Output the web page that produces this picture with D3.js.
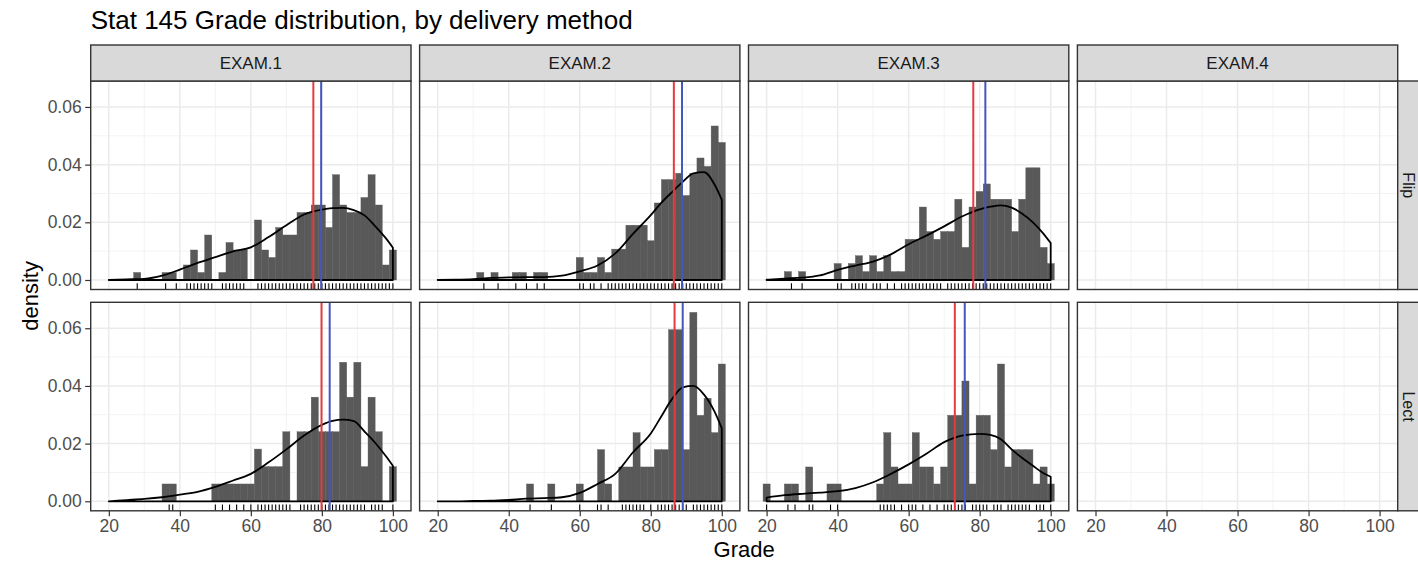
<!DOCTYPE html>
<html>
<head>
    <script src="https://cdnjs.cloudflare.com/ajax/libs/d3/7.8.5/d3.min.js"></script>
    <style>
        body, html {
            margin: 0;
            padding: 0;
            background: #fff;
            overflow: hidden;
        }
        svg {
            display: block;
            font-family: "Liberation Sans", Arial, sans-serif;
        }
        .axis text {
            fill: #4d4d4d;
            font-size: 17.5px;
        }
        .axis line {
            stroke: #333;
            stroke-width: 1.2px;
        }
        .axis path {
            display: none;
        }
        .strip-label {
            fill: #1a1a1a;
            font-size: 17px;
        }
        .axis-title {
            fill: #000;
            font-size: 22px;
        }
    </style>
</head>
<body>
    <svg></svg>
    <script>
        const width = 1418;
        const height = 564;

        // facets
        const exams = ["EXAM.1", "EXAM.2", "EXAM.3", "EXAM.4"];
        const methods = ["Flip", "Lect"];

        // histogram bin centres (binwidth 2)
        const binCenters = [20, 22, 24, 26, 28, 30, 32, 34, 36, 38, 40, 42, 44, 46, 48, 50, 52, 54, 56, 58,
            60, 62, 64, 66, 68, 70, 72, 74, 76, 78, 80, 82, 84, 86, 88, 90, 92, 94, 96, 98, 100];

        // bar densities, one value per bin
        const histFlip1 = [0, 0, 0, 0, .0026, 0, 0, 0, .0026, .0026, 0, .0052, .0104, .0026, .0156, 0, .0026, .0130, .0104, .0104,
            0, .0208, .0104, .0078, .0182, .0156, .0156, .0234, .0234, .0260, .0260, .0182, .0365, .0260, .0234, .0234, .0286, .0365, .0260, .0052, .0104];
        const histFlip2 = [0, 0, 0, 0, 0, 0, .0026, 0, .0026, 0, 0, .0026, .0026, 0, .0026, .0026, 0, 0, 0, 0,
            .0078, .0026, .0026, .0078, .0026, .0107, .0107, .0190, .0190, .0190, .0136, .0267, .0348, .0348, .0370, .0293, .0370, .0423, .0394, .0534, .0477];
        const histFlip3 = [0, 0, 0, .0029, 0, .0029, 0, 0, 0, 0, .0057, 0, .0057, .0084, .0029, .0084, .0029, .0084, .0029, .0029,
            .0141, .0141, .0253, .0168, .0141, .0168, .0168, .0280, .0113, .0253, .0307, .0333, .0280, .0280, .0280, .0168, .0280, .0389, .0389, .0113, .0057];
        const histLect1 = [0, 0, 0, 0, 0, 0, 0, 0, .0060, .0060, 0, 0, 0, 0, 0, .0060, .0060, .0060, .0060, .0060,
            .0060, .0181, .0120, .0120, .0120, .0241, 0, .0241, .0241, .0361, .0241, .0241, .0241, .0482, .0361, .0482, .0120, .0361, .0241, 0, .0120];
        const histLect2 = [0, 0, 0, 0, 0, 0, 0, 0, 0, 0, 0, 0, 0, .0060, 0, 0, .0060, 0, 0, 0,
            .0060, 0, 0, .0179, .0060, 0, .0119, .0119, .0238, .0119, .0119, .0179, .0179, .0595, .0595, .0179, .0655, .0298, .0357, .0238, .0476];
        const histLect3 = [.0060, 0, 0, .0060, .0060, 0, .0119, 0, 0, .0060, .0060, 0, 0, 0, 0, 0, .0060, .0238, .0119, .0060,
            .0060, .0238, .0119, .0119, .0060, .0119, .0298, .0298, .0417, .0060, .0298, .0298, .0179, .0476, .0119, .0179, .0179, .0179, .0060, .0119, .0060];

        // density curve, sampled at these grades
        const densityX = [20, 25, 30, 35, 40, 45, 50, 55, 60, 65, 70, 75, 80, 83, 86, 89, 92, 95, 98, 100];
        const densFlip1 = [0, .0002, .0004, .0015, .0036, .0059, .0079, .0099, .0113, .0149, .0190, .0227, .0244, .0249, .0250, .0242, .0224, .0187, .0145, .0112];
        const densFlip2 = [0, .0001, .0003, .0007, .0009, .0010, .0010, .0015, .0030, .0050, .0092, .0160, .0225, .0268, .0305, .0340, .0370, .0374, .0330, .0278];
        const densFlip3 = [.0001, .0005, .0008, .0016, .0035, .0050, .0064, .0089, .0124, .0154, .0186, .0220, .0245, .0254, .0259, .0251, .0230, .0200, .0160, .0128];
        const densLect1 = [0, .0004, .0008, .0014, .0023, .0033, .0050, .0072, .0095, .0135, .0180, .0228, .0265, .0279, .0283, .0278, .0242, .0203, .0157, .0123];
        const densLect2 = [0, 0, .0001, .0002, .0005, .0009, .0011, .0014, .0029, .0060, .0095, .0170, .0235, .0295, .0355, .0395, .0400, .0370, .0310, .0253];
        const densLect3 = [.0013, .0021, .0026, .0030, .0035, .0046, .0066, .0095, .0128, .0165, .0205, .0228, .0234, .0230, .0215, .0180, .0150, .0123, .0097, .0085];

        // individual grades (rug)
        const rugFlip1 = [28, 36, 39, 42, 43, 44, 45, 46, 47, 48, 49, 52, 53, 54, 55, 56, 57, 58, 62, 63, 64, 65, 66, 67, 68, 69,
            70, 71, 72, 73, 74, 75, 76, 77, 78, 79, 80, 81, 82, 83, 84, 85, 86, 87, 88, 89, 90, 91, 92, 93, 94, 95, 96, 97, 98, 99, 100];
        const rugFlip2 = [33, 37, 42, 45, 48, 50, 60, 61, 63, 64, 66, 68, 69, 70, 71, 72, 73, 74, 75, 76, 77, 78, 79, 80,
            81, 82, 83, 84, 85, 86, 87, 88, 89, 90, 91, 92, 93, 94, 95, 96, 97, 98, 99, 100];
        const rugFlip3 = [27, 30, 40, 41, 44, 45, 46, 47, 48, 50, 51, 52, 54, 56, 58, 59, 60, 61, 62, 63, 64, 65, 66, 67, 68,
            69, 71, 72, 73, 74, 75, 76, 77, 78, 79, 80, 81, 82, 83, 84, 85, 86, 87, 88, 89, 90, 91, 92, 93, 94, 95, 96, 97, 98, 99, 100];
        const rugLect1 = [37, 38, 50, 52, 54, 56, 58, 60, 62, 63, 64, 65, 66, 67, 68, 69, 70, 71, 74, 75, 76, 77, 78, 79,
            80, 81, 82, 83, 84, 85, 86, 87, 88, 89, 90, 91, 92, 94, 95, 96, 97, 100];
        const rugLect2 = [46, 52, 60, 65, 66, 68, 72, 73, 74, 75, 76, 77, 78, 80, 82, 83, 84, 85, 86, 87, 88, 89, 90,
            92, 93, 94, 95, 96, 97, 98, 99, 100];
        const rugLect3 = [20, 26, 28, 32, 33, 38, 40, 52, 53, 54, 55, 56, 58, 60, 61, 62, 64, 66, 68, 70, 71, 72, 73, 74,
            75, 76, 78, 79, 80, 81, 82, 84, 85, 86, 88, 89, 90, 91, 92, 93, 94, 96, 97, 98, 100];

        // red and blue reference lines, per panel
        const redLine = { Flip: [77.6, 86.5, 78.2], Lect: [79.9, 86.7, 73.0] };
        const blueLine = { Flip: [79.8, 88.8, 81.6], Lect: [82.2, 89.0, 75.8] };

        const xTicks = [20, 40, 60, 80, 100];
        const xMinor = [30, 50, 70, 90];
        const yTicks = [0, 0.02, 0.04, 0.06];
        const yMinor = [0.01, 0.03, 0.05];

        const hist = { Flip: [histFlip1, histFlip2, histFlip3], Lect: [histLect1, histLect2, histLect3] };
        const dens = { Flip: [densFlip1, densFlip2, densFlip3], Lect: [densLect1, densLect2, densLect3] };
        const rugs = { Flip: [rugFlip1, rugFlip2, rugFlip3], Lect: [rugLect1, rugLect2, rugLect3] };

        // layout
        const left0 = 90.7, top0 = 81;
        const panelW = 320.3, panelH = 208.5;
        const gapX = 8.6, gapY = 12.8;
        const stripH = 36;

        const svg = d3.select("svg")
            .attr("width", width)
            .attr("height", height);

        const x = d3.scaleLinear().domain([14.9, 105.1]).range([0, panelW]);
        const y = d3.scaleLinear().domain([-0.0033, 0.0690]).range([panelH, 0]);

        const line = d3.line()
            .x((d, i) => x(densityX[i]))
            .y(d => y(d))
            .curve(d3.curveMonotoneX);

        svg.append("text")
            .attr("x", left0)
            .attr("y", 29)
            .attr("fill", "#000")
            .style("font-size", "26px")
            .text("Stat 145 Grade distribution, by delivery method");

        const defs = svg.append("defs");
        defs.append("clipPath").attr("id", "panel-clip")
            .append("rect").attr("width", panelW).attr("height", panelH);

        methods.forEach((m, r) => {
            exams.forEach((ex, c) => {
                const px = left0 + c * (panelW + gapX);
                const py = top0 + r * (panelH + gapY);
                const g = svg.append("g").attr("transform", `translate(${px},${py})`);
                const inner = g.append("g").attr("clip-path", "url(#panel-clip)");

                inner.append("rect")
                    .attr("width", panelW).attr("height", panelH)
                    .attr("fill", "#fff");

                // grid
                inner.selectAll(".gx-minor").data(xMinor).join("line")
                    .attr("x1", d => x(d)).attr("x2", d => x(d))
                    .attr("y1", 0).attr("y2", panelH)
                    .attr("stroke", "#f0f0f0").attr("stroke-width", 0.8);
                inner.selectAll(".gy-minor").data(yMinor).join("line")
                    .attr("y1", d => y(d)).attr("y2", d => y(d))
                    .attr("x1", 0).attr("x2", panelW)
                    .attr("stroke", "#f0f0f0").attr("stroke-width", 0.8);
                inner.selectAll(".gx-major").data(xTicks).join("line")
                    .attr("x1", d => x(d)).attr("x2", d => x(d))
                    .attr("y1", 0).attr("y2", panelH)
                    .attr("stroke", "#ebebeb").attr("stroke-width", 1.5);
                inner.selectAll(".gy-major").data(yTicks).join("line")
                    .attr("y1", d => y(d)).attr("y2", d => y(d))
                    .attr("x1", 0).attr("x2", panelW)
                    .attr("stroke", "#ebebeb").attr("stroke-width", 1.5);

                if (c < 3) {
                    const bins = hist[m][c].map((v, i) => ({ c: binCenters[i], v: v })).filter(d => d.v > 0);
                    inner.append("g").selectAll("rect").data(bins).join("rect")
                        .attr("x", d => x(d.c - 1))
                        .attr("width", d => x(d.c + 1) - x(d.c - 1))
                        .attr("y", d => y(d.v))
                        .attr("height", d => y(0) - y(d.v))
                        .attr("fill", "#595959")
                        .attr("stroke", "#595959")
                        .attr("stroke-width", 0.4);

                    const dv = dens[m][c];
                    const path = line(dv) +
                        `L${x(densityX[densityX.length - 1])},${y(0)}L${x(densityX[0])},${y(0)}Z`;
                    inner.append("path")
                        .attr("d", path)
                        .attr("fill", "none")
                        .attr("stroke", "#000")
                        .attr("stroke-width", 1.8)
                        .attr("stroke-linejoin", "round");

                    inner.append("g").selectAll("line").data(rugs[m][c]).join("line")
                        .attr("x1", d => x(d)).attr("x2", d => x(d))
                        .attr("y1", panelH).attr("y2", panelH - 0.03 * panelH)
                        .attr("stroke", "#000").attr("stroke-width", 1.1);

                    inner.append("line")
                        .attr("x1", x(redLine[m][c])).attr("x2", x(redLine[m][c]))
                        .attr("y1", 0).attr("y2", panelH)
                        .attr("stroke", "#e53a40").attr("stroke-width", 2);
                    inner.append("line")
                        .attr("x1", x(blueLine[m][c])).attr("x2", x(blueLine[m][c]))
                        .attr("y1", 0).attr("y2", panelH)
                        .attr("stroke", "#4457bd").attr("stroke-width", 2);
                }

                g.append("rect")
                    .attr("width", panelW).attr("height", panelH)
                    .attr("fill", "none")
                    .attr("stroke", "#333").attr("stroke-width", 1.4);

                // axes on outer panels only
                if (c === 0) {
                    g.append("g").attr("class", "axis")
                        .call(d3.axisLeft(y).tickValues(yTicks).tickFormat(d3.format(".2f"))
                            .tickSize(5.5).tickPadding(3.5));
                }
                if (r === methods.length - 1) {
                    g.append("g").attr("class", "axis")
                        .attr("transform", `translate(0,${panelH})`)
                        .call(d3.axisBottom(x).tickValues(xTicks).tickSize(5.5).tickPadding(3));
                }

                // column strips
                if (r === 0) {
                    const s = svg.append("g").attr("transform", `translate(${px},${top0 - stripH})`);
                    s.append("rect")
                        .attr("width", panelW).attr("height", stripH)
                        .attr("fill", "#d9d9d9")
                        .attr("stroke", "#333").attr("stroke-width", 1.4);
                    s.append("text")
                        .attr("class", "strip-label")
                        .attr("x", panelW / 2).attr("y", stripH / 2)
                        .attr("dy", "0.35em")
                        .attr("text-anchor", "middle")
                        .text(ex);
                }

                // row strips (cut by the window edge, as in the original)
                if (c === exams.length - 1) {
                    const sx = px + panelW;
                    const s = svg.append("g").attr("transform", `translate(${sx},${py})`);
                    s.append("rect")
                        .attr("width", 36).attr("height", panelH)
                        .attr("fill", "#d9d9d9")
                        .attr("stroke", "#333").attr("stroke-width", 1.4);
                    s.append("text")
                        .attr("class", "strip-label")
                        .attr("transform", `translate(10.5,${panelH / 2}) rotate(90)`)
                        .attr("dy", "0.35em")
                        .attr("text-anchor", "middle")
                        .style("font-size", "16px")
                        .text(m);
                }
            });
        });

        svg.append("text")
            .attr("class", "axis-title")
            .attr("x", left0 + (4 * panelW + 3 * gapX) / 2)
            .attr("y", 557)
            .attr("text-anchor", "middle")
            .text("Grade");

        svg.append("text")
            .attr("class", "axis-title")
            .attr("transform", `translate(30,${top0 + panelH + gapY / 2}) rotate(-90)`)
            .attr("dy", "0.35em")
            .attr("text-anchor", "middle")
            .text("density");
    </script>
</body>
</html>
